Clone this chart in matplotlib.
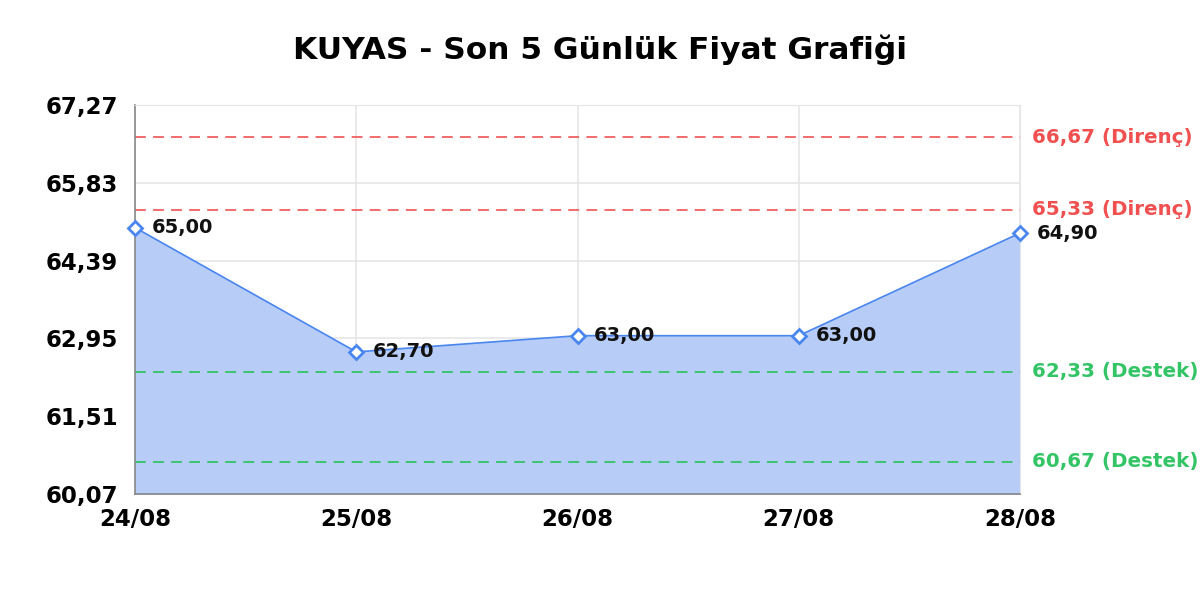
import matplotlib
matplotlib.use("Agg")
import matplotlib.pyplot as plt
import numpy as np

dates = ["24/08", "25/08", "26/08", "27/08", "28/08"]
prices = [65.00, 62.70, 63.00, 63.00, 64.90]
resistance = [66.67, 65.33]
support = [62.33, 60.67]
yticks = [60.07, 61.51, 62.95, 64.39, 65.83, 67.27]
title = "KUYAS - Son 5 Günlük Fiyat Grafiği"

def fmt(v):
    return f"{v:.2f}".replace(".", ",")

plt.rcParams['font.family'] = ['DejaVu Sans']
fig = plt.figure(figsize=(12, 6), dpi=100)
ax = fig.add_axes([0.1125, 0.1767, 0.7375, 0.6483])

x = np.arange(len(dates))
line_c = "#4a86f0"
ax.fill_between(x, prices, yticks[0], color="#b7cdf8", zorder=1)
ax.plot(x, prices, color=line_c, lw=1.2, zorder=3)
ax.plot(x, prices, ls="none", marker="D", ms=7.5, mfc="white", mec=line_c, mew=2.0, zorder=4,
        clip_on=False)

for xi, p in zip(x, prices):
    ax.annotate(fmt(p), (xi, p), xytext=(12, 0), textcoords="offset points",
                ha="left", va="center", fontsize=14, fontweight="bold", color="#111111", zorder=5,
                annotation_clip=False)

for r in resistance:
    ax.axhline(r, color="#f06060", ls=(0, (6, 4)), lw=1.3, zorder=2)
    ax.annotate(f"{fmt(r)} (Direnç)", (1, r), xycoords=("axes fraction", "data"),
                xytext=(8.5, 0), textcoords="offset points", ha="left", va="center",
                fontsize=14.3, fontweight="bold", color="#f05050", annotation_clip=False)
for s in support:
    ax.axhline(s, color="#33c466", ls=(0, (6, 4)), lw=1.3, zorder=2)
    ax.annotate(f"{fmt(s)} (Destek)", (1, s), xycoords=("axes fraction", "data"),
                xytext=(8.5, 0), textcoords="offset points", ha="left", va="center",
                fontsize=14.3, fontweight="bold", color="#33c466", annotation_clip=False)

ax.set_xlim(0, len(dates) - 1)
ax.set_ylim(yticks[0], yticks[-1])
ax.set_yticks(yticks)
ax.set_yticklabels([fmt(v) for v in yticks], fontsize=16.5, fontweight="bold")
ax.set_xticks(x)
ax.set_xticklabels(dates, fontsize=16.5, fontweight="bold")
ax.tick_params(length=0)
ax.tick_params(axis="y", pad=12)
ax.tick_params(axis="x", pad=10)
ax.grid(True, color="#e6e6e6", lw=1.2, zorder=0)
ax.set_axisbelow(True)
for side in ["top", "right"]:
    ax.spines[side].set_color("#e6e6e6")
for side in ["left", "bottom"]:
    ax.spines[side].set_color("#888888")
    ax.spines[side].set_linewidth(1.2)

fig.text(0.5, 1 - 59 / 600, title, fontsize=22.5, fontweight="bold", ha="center", va="baseline")
fig.savefig("out.png", dpi=100)
